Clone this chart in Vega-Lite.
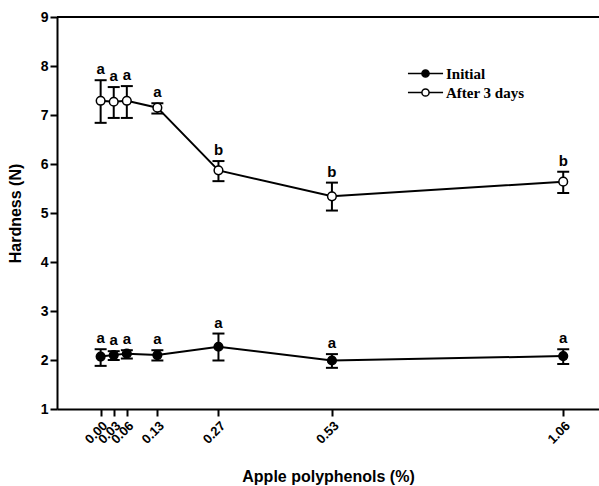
{
  "$schema": "https://vega.github.io/schema/vega-lite/v6.json",
  "width": 542,
  "height": 392,
  "autosize": "none",
  "padding": {"left": 57, "top": 17, "right": 0, "bottom": 77},
  "background": "white",
  "config": {
    "view": {"stroke": null}
  },
  "data": {
    "values": [
      {"x": 0.00, "series": "After 3 days", "y": 7.29, "lo": 6.84, "hi": 7.71, "letter": "a"},
      {"x": 0.03, "series": "After 3 days", "y": 7.27, "lo": 6.94, "hi": 7.57, "letter": "a"},
      {"x": 0.06, "series": "After 3 days", "y": 7.29, "lo": 6.94, "hi": 7.59, "letter": "a"},
      {"x": 0.13, "series": "After 3 days", "y": 7.15, "lo": 7.03, "hi": 7.24, "letter": "a"},
      {"x": 0.27, "series": "After 3 days", "y": 5.87, "lo": 5.65, "hi": 6.06, "letter": "b"},
      {"x": 0.53, "series": "After 3 days", "y": 5.34, "lo": 5.05, "hi": 5.62, "letter": "b"},
      {"x": 1.06, "series": "After 3 days", "y": 5.64, "lo": 5.41, "hi": 5.84, "letter": "b"},
      {"x": 0.00, "series": "Initial", "y": 2.07, "lo": 1.88, "hi": 2.22, "letter": "a"},
      {"x": 0.03, "series": "Initial", "y": 2.10, "lo": 2.00, "hi": 2.18, "letter": "a"},
      {"x": 0.06, "series": "Initial", "y": 2.13, "lo": 2.03, "hi": 2.20, "letter": "a"},
      {"x": 0.13, "series": "Initial", "y": 2.10, "lo": 1.99, "hi": 2.20, "letter": "a"},
      {"x": 0.27, "series": "Initial", "y": 2.27, "lo": 1.99, "hi": 2.54, "letter": "a"},
      {"x": 0.53, "series": "Initial", "y": 1.99, "lo": 1.84, "hi": 2.12, "letter": "a"},
      {"x": 1.06, "series": "Initial", "y": 2.08, "lo": 1.92, "hi": 2.22, "letter": "a"}
    ]
  },
  "layer": [
    {
      "mark": {"type": "line", "color": "black", "strokeWidth": 2},
      "encoding": {
        "x": {
          "field": "x", "type": "quantitative",
          "scale": {"domain": [-0.1, 1.142], "nice": false, "zero": false},
          "axis": {
            "values": [0, 0.03, 0.06, 0.13, 0.27, 0.53, 1.06], "format": ".2f",
            "labelOverlap": false, "grid": false,
            "labelAngle": -45, "labelFontSize": 13, "labelFont": "Liberation Sans", "labelFontWeight": "bold", "labelColor": "black",
            "tickSize": 7, "tickWidth": 2, "tickColor": "black", "domainColor": "black", "domainWidth": 2, "labelPadding": 3,
            "title": "Apple polyphenols (%)", "titleFontSize": 16, "titleFont": "Liberation Sans", "titleFontWeight": "bold", "titleColor": "black",
            "titleBaseline": "alphabetic", "titleY": 72
          }
        },
        "y": {
          "field": "y", "type": "quantitative",
          "scale": {"domain": [1, 9], "nice": false, "zero": false},
          "axis": {
            "values": [1, 2, 3, 4, 5, 6, 7, 8, 9], "grid": false,
            "labelFontSize": 14, "labelFont": "Liberation Sans", "labelFontWeight": "bold", "labelColor": "black",
            "tickSize": 7, "tickWidth": 2, "tickColor": "black", "domainColor": "black", "domainWidth": 2, "labelPadding": 2,
            "title": "Hardness (N)", "titleFontSize": 16, "titleFont": "Liberation Sans", "titleFontWeight": "bold", "titleColor": "black",
            "titleX": -42, "titleBaseline": "middle"
          }
        },
        "detail": {"field": "series"}
      }
    },
    {
      "mark": {"type": "rule", "color": "black", "strokeWidth": 2},
      "encoding": {"y": {"datum": 9, "type": "quantitative"}}
    },
    {
      "mark": {"type": "rule", "color": "black", "strokeWidth": 2},
      "encoding": {"x": {"field": "x", "type": "quantitative"}, "y": {"field": "lo", "type": "quantitative"}, "y2": {"field": "hi"}}
    },
    {
      "mark": {"type": "tick", "orient": "horizontal", "color": "black", "size": 12, "thickness": 2, "opacity": 1},
      "encoding": {"x": {"field": "x", "type": "quantitative"}, "y": {"field": "lo", "type": "quantitative"}}
    },
    {
      "mark": {"type": "tick", "orient": "horizontal", "color": "black", "size": 12, "thickness": 2, "opacity": 1},
      "encoding": {"x": {"field": "x", "type": "quantitative"}, "y": {"field": "hi", "type": "quantitative"}}
    },
    {
      "mark": {"type": "point", "filled": true, "stroke": "black", "strokeWidth": 1.5, "size": 75, "opacity": 1},
      "encoding": {
        "x": {"field": "x", "type": "quantitative"},
        "y": {"field": "y", "type": "quantitative"},
        "fill": {
          "field": "series", "type": "nominal",
          "scale": {"domain": ["Initial", "After 3 days"], "range": ["black", "white"]},
          "legend": {
            "orient": "none", "legendX": 361, "legendY": 49, "title": null, "padding": 0,
            "symbolType": "M-3.9,0H-0.8M0.8,0H3.9M-0.8,0A0.8,0.8 0 1,1 0.8,0A0.8,0.8 0 1,1 -0.8,0Z",
            "symbolSize": 81, "symbolStrokeColor": "black", "symbolStrokeWidth": 1.5,
            "labelFont": "Liberation Serif", "labelFontWeight": "bold", "labelFontSize": 15,
            "labelColor": "black", "labelOffset": 13, "rowPadding": 3
          }
        }
      }
    },
    {
      "mark": {"type": "text", "font": "Liberation Sans", "fontWeight": "bold", "fontSize": 15, "baseline": "alphabetic", "dy": -6, "color": "black"},
      "encoding": {"x": {"field": "x", "type": "quantitative"}, "y": {"field": "hi", "type": "quantitative"}, "text": {"field": "letter"}}
    }
  ]
}
